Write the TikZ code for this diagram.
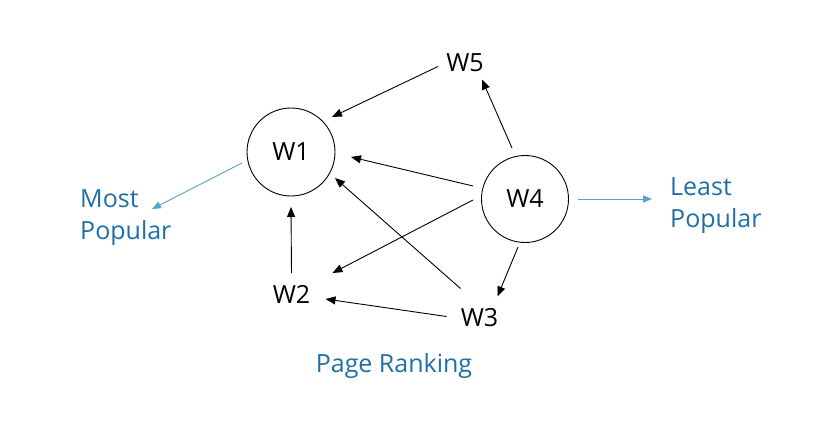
\documentclass[tikz,border=0pt]{standalone}
\usepackage{fontspec}
\setmainfont{Open Sans}
\usetikzlibrary{arrows.meta,calc}
\definecolor{labelblue}{HTML}{1F6FA5}
\definecolor{arrowblue}{HTML}{5A9FCF}
\begin{document}
\begin{tikzpicture}[x=1pt,y=-1pt,
  wnode/.style={inner sep=0pt,font=\fontsize{25}{28}\selectfont},
  wcircle/.style={wnode,draw,circle,line width=0.9pt},
  bluelabel/.style={inner sep=0pt,align=left,text=labelblue,font=\fontsize{25}{32}\selectfont},
  link/.style={line width=0.9pt,-{Triangle[length=10pt,width=8pt]}},
  bluelink/.style={line width=0.9pt,arrowblue,-{Triangle[length=9pt,width=7pt]}}]
\useasboundingbox (0,0) rectangle (839,423);
\node[wcircle,minimum size=88pt] (w1) at (291,152) {W1};
\node[wcircle,minimum size=87pt] (w4) at (525,199) {W4};
\node[wnode] (w5) at (465,62.5) {W5};
\node[wnode] (w2) at (291.5,294) {W2};
\node[wnode] (w3) at (479.5,317.5) {W3};
\node[bluelabel,anchor=north west] (most) at (80,189) {Most\\Popular};
\node[bluelabel,anchor=north west] (least) at (670,177) {Least\\Popular};
\node[inner sep=0pt,text=labelblue,font=\fontsize{25}{28}\selectfont,anchor=base] (title) at (394,372) {Page Ranking};
\draw[link] ($(w5)+(-27,4)$) -- ($(w1)+(41,-35)$);
\draw[link] ($(w4)+(-13,-51)$) -- ($(w5)+(17,17)$);
\draw[link] ($(w4)+(-52,-13)$) -- ($(w1)+(60,5)$);
\draw[link] ($(w3)+(-19,-29)$) -- ($(w1)+(44,26)$);
\draw[link] ($(w4)+(-52,1)$) -- ($(w2)+(41,-21)$);
\draw[link] ($(w2)+(0,-21)$) -- ($(w1)+(0,55)$);
\draw[link] ($(w3)+(-33,-1)$) -- ($(w2)+(34,5)$);
\draw[link] ($(w4)+(-7,48)$) -- ($(w3)+(18,-21)$);
\draw[bluelink] ($(w1)+(-49,11)$) -- ($(most.north west)+(72,20)$);
\draw[bluelink] ($(w4)+(53,0)$) -- ($(least.north west)+(-18,22)$);
\end{tikzpicture}
\end{document}
